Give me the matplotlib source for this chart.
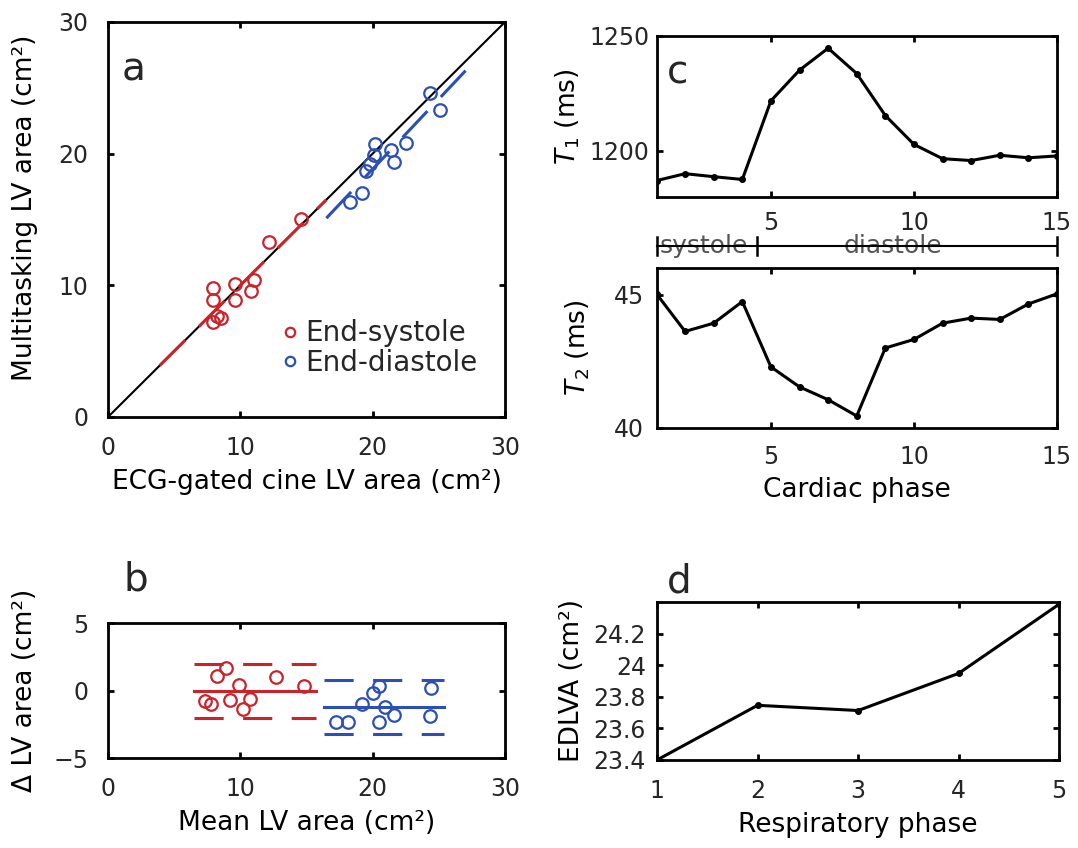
import numpy as np
import matplotlib.pyplot as plt

plt.rcParams['font.family'] = ['DejaVu Sans']
plt.rcParams['lines.scale_dashes'] = False
plt.rcParams['text.color'] = '#262626'
plt.rcParams['xtick.labelcolor'] = '#262626'
plt.rcParams['ytick.labelcolor'] = '#262626'

RED = '#cc2229'
BLUE = '#2b4fb4'

# panel a: ECG-gated cine vs multitasking LV area (cm^2)
es_cine = [7.9, 7.9, 9.6, 9.6, 10.8, 11.0, 7.9, 8.5, 8.2, 12.2, 14.6]
es_mt = [9.8, 8.9, 10.1, 8.9, 9.6, 10.4, 7.2, 7.5, 7.7, 13.3, 15.0]
ed_cine = [24.3, 25.1, 20.2, 20.1, 21.4, 21.6, 22.5, 19.5, 19.8, 19.2, 18.3]
ed_mt = [24.6, 23.3, 20.7, 19.9, 20.3, 19.4, 20.8, 18.7, 19.2, 17.0, 16.3]
identity = [0, 30]
es_fit_x = [3.9, 16.5]
es_fit_y = [3.9, 16.5]
ed_fit_x = [16.5, 27.3]
ed_fit_y = [15.1, 26.6]

# panel b: Bland-Altman
es_mean_area = [8.9, 8.2, 12.7, 9.9, 14.8, 7.3, 7.8, 9.2, 10.7, 10.2]
es_diff = [1.7, 1.1, 1.0, 0.4, 0.3, -0.8, -1.0, -0.7, -0.6, -1.4]
ed_mean_area = [20.5, 20.0, 19.2, 20.9, 21.6, 20.5, 17.2, 18.1, 24.4, 24.3]
ed_diff = [0.3, -0.2, -1.0, -1.2, -1.8, -2.3, -2.3, -2.3, 0.2, -1.9]
es_span = [6.5, 15.7]
es_bias = 0.0
es_loa = [-2.0, 1.96]
ed_span = [16.3, 25.4]
ed_bias = -1.21
ed_loa = [-3.2, 0.75]

# panel c: T1 / T2 over cardiac phase
cardiac_phase = np.arange(1, 16)
t1 = [1187.1, 1190.1, 1188.8, 1187.6, 1221.7, 1235.0, 1244.5, 1233.5,
      1215.3, 1202.8, 1196.6, 1195.8, 1198.1, 1197.0, 1197.8]
t2 = [45.03, 43.62, 43.93, 44.74, 42.29, 41.54, 41.06, 40.45,
      43.0, 43.32, 43.93, 44.12, 44.07, 44.65, 45.03]
phase_bounds = [1, 4.5, 15]
phase_names = ['systole', 'diastole']
phase_text_x = [2.65, 9.25]

# panel d: end-diastolic LV area over respiratory phase
resp_phase = [1, 2, 3, 4, 5]
edlva = [23.40, 23.746, 23.713, 23.948, 24.386]

TICK = 17
LAB = 19
LET = 28


def box_style(ax):
    for s in ax.spines.values():
        s.set_linewidth(2.0)
    ax.tick_params(direction='in', top=True, right=True, length=4, width=2,
                   labelsize=TICK, pad=14)


fig = plt.figure(figsize=(10.78, 8.48), dpi=100)

# ---- a
ax_a = fig.add_axes([0.1002, 0.5083, 0.3683, 0.4658])
ax_a.plot(identity, identity, color='black', lw=1.5, zorder=1)
ax_a.plot(es_fit_x, es_fit_y, color=RED, lw=2.2, dashes=(26, 14), zorder=2)
ax_a.plot(ed_fit_x, ed_fit_y, color=BLUE, lw=2.2, dashes=(26, 14), zorder=2)
ax_a.plot(es_cine, es_mt, 'o', mfc='none', mec=RED, ms=9, mew=1.6,
          label='End-systole', zorder=3)
ax_a.plot(ed_cine, ed_mt, 'o', mfc='none', mec=BLUE, ms=9, mew=1.6,
          label='End-diastole', zorder=3)
ax_a.set_xlim(0, 30)
ax_a.set_ylim(0, 30)
ax_a.set_xticks([0, 10, 20, 30])
ax_a.set_yticks([0, 10, 20, 30])
box_style(ax_a)
ax_a.set_xlabel('ECG-gated cine LV area (cm²)', fontsize=LAB, labelpad=6)
ax_a.set_ylabel('Multitasking LV area (cm²)', fontsize=LAB)
ax_a.yaxis.set_label_coords(-0.176, 0.53)
ax_a.text(0.035, 0.853, 'a', transform=ax_a.transAxes, fontsize=LET,
          va='baseline')
ax_a.legend(loc='upper left', bbox_to_anchor=(0.41, 0.275), frameon=False,
            fontsize=20, handlelength=0.6, handletextpad=0.25,
            markerscale=0.75, borderaxespad=0, labelspacing=0.05)

# ---- b
ax_b = fig.add_axes([0.1002, 0.1061, 0.3683, 0.1592])
for span, bias, loa, col in [(es_span, es_bias, es_loa, RED),
                             (ed_span, ed_bias, ed_loa, BLUE)]:
    ax_b.plot(span, [bias, bias], color=col, lw=2.2)
    for lim in loa:
        ax_b.plot(span, [lim, lim], color=col, lw=2.2, dashes=(21, 14))
ax_b.plot(es_mean_area, es_diff, 'o', mfc='none', mec=RED, ms=9, mew=1.6)
ax_b.plot(ed_mean_area, ed_diff, 'o', mfc='none', mec=BLUE, ms=9, mew=1.6)
ax_b.set_xlim(0, 30)
ax_b.set_ylim(-5, 5)
ax_b.set_xticks([0, 10, 20, 30])
ax_b.set_yticks([-5, 0, 5])
box_style(ax_b)
ax_b.set_xlabel('Mean LV area (cm²)', fontsize=LAB, labelpad=6)
ax_b.set_ylabel('Δ LV area (cm²)', fontsize=LAB)
ax_b.yaxis.set_label_coords(-0.176, 0.5)
ax_b.text(0.04, 1.244, 'b', transform=ax_b.transAxes, fontsize=LET,
          va='baseline')

# ---- c (T1)
ax_c = fig.add_axes([0.609, 0.7677, 0.3715, 0.1904])
ax_c.plot(cardiac_phase, t1, '.-', color='black', lw=2.2, ms=8)
ax_c.set_xlim(1, 15)
ax_c.set_ylim(1180, 1250)
ax_c.set_xticks([5, 10, 15])
ax_c.set_yticks([1200, 1250])
box_style(ax_c)
ax_c.tick_params(axis='x', pad=10)
ax_c.tick_params(axis='y', pad=5)
ax_c.set_ylabel('$T_1$ (ms)', fontsize=LAB)
ax_c.yaxis.set_label_coords(-0.185, 0.5)
ax_c.text(0.025, 0.706, 'c', transform=ax_c.transAxes, fontsize=LET,
          va='baseline')

# systole / diastole bar
ax_bar = fig.add_axes([0.609, 0.691, 0.3715, 0.0377])
ax_bar.set_xlim(1, 15)
ax_bar.set_ylim(0, 1)
ax_bar.axis('off')
for name, xt in zip(phase_names, phase_text_x):
    ax_bar.text(xt, 0.28, name, ha='center', va='baseline', fontsize=18,
                color='#555555', zorder=1)
ax_bar.plot([phase_bounds[0], phase_bounds[-1]], [0.5, 0.5], color='black',
            lw=1.5, zorder=2, clip_on=False)
for xb in phase_bounds:
    ax_bar.plot([xb, xb], [0.22, 0.78], color='black', lw=1.8, zorder=2,
                clip_on=False)

# ---- T2
ax_t2 = fig.add_axes([0.609, 0.4953, 0.3715, 0.1887])
ax_t2.plot(cardiac_phase, t2, '.-', color='black', lw=2.2, ms=8)
ax_t2.set_xlim(1, 15)
ax_t2.set_ylim(40, 46)
ax_t2.set_xticks([5, 10, 15])
ax_t2.set_yticks([40, 45])
box_style(ax_t2)
ax_t2.tick_params(axis='x', pad=12)
ax_t2.tick_params(axis='y', pad=9)
ax_t2.set_xlabel('Cardiac phase', fontsize=LAB, labelpad=6)
ax_t2.set_ylabel('$T_2$ (ms)', fontsize=LAB)
ax_t2.yaxis.set_label_coords(-0.16, 0.5)

# ---- d
ax_d = fig.add_axes([0.6095, 0.1038, 0.373, 0.1863])
ax_d.plot(resp_phase, edlva, '.-', color='black', lw=2.2, ms=8)
ax_d.set_xlim(1, 5)
ax_d.set_ylim(23.4, 24.4)
ax_d.set_xticks([1, 2, 3, 4, 5])
ax_d.set_yticks([23.4, 23.6, 23.8, 24.0, 24.2])
ax_d.set_yticklabels(['23.4', '23.6', '23.8', '24', '24.2'])
box_style(ax_d)
ax_d.tick_params(axis='y', pad=8)
ax_d.set_xlabel('Respiratory phase', fontsize=LAB, labelpad=6)
ax_d.set_ylabel('EDLVA (cm²)', fontsize=LAB)
ax_d.yaxis.set_label_coords(-0.18, 0.5)
ax_d.text(0.025, 1.057, 'd', transform=ax_d.transAxes, fontsize=LET,
          va='baseline')

fig.savefig('out.png', dpi=100)
